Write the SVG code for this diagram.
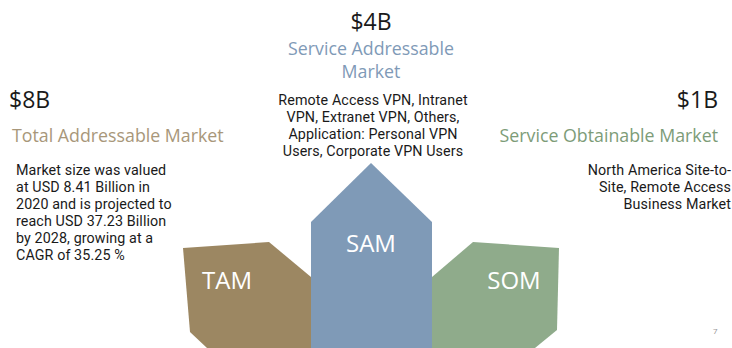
<svg xmlns="http://www.w3.org/2000/svg" width="732" height="348" viewBox="0 0 732 348">
<style>
.big{font-family:"Open Sans","Liberation Sans",sans-serif;font-size:23px;fill:#1a1a1a}
.ttl{font-family:"Open Sans","Liberation Sans",sans-serif;font-size:17.8px}
.body{font-family:Roboto,"Liberation Sans",sans-serif;font-size:14.3px;letter-spacing:0.1px;fill:#1a1a1a}
.lbl{font-family:"Open Sans","Liberation Sans",sans-serif;font-size:24px;fill:#ffffff}
</style>
<rect width="732" height="348" fill="#ffffff"/>
<g id="tam">
<polygon points="183,248 269,242 311,277 311,348 207,348 190,332" fill="#9c8762"/>
<text class="lbl" x="227" y="289" text-anchor="middle">TAM</text>
<text class="big" x="9" y="108">$8B</text>
<text class="ttl" x="12" y="142" fill="#a8977a">Total Addressable Market</text>
<text class="body" x="16" y="175">Market size was valued</text>
<text class="body" x="16" y="192">at USD 8.41 Billion in</text>
<text class="body" x="16" y="209">2020 and is projected to</text>
<text class="body" x="16" y="226">reach USD 37.23 Billion</text>
<text class="body" x="16" y="243">by 2028, growing at a</text>
<text class="body" x="16" y="260">CAGR of 35.25 %</text>
</g>
<g id="sam">
<polygon points="371,163 432,222 432,348 311,348 311,222" fill="#7f9ab7"/>
<text class="lbl" x="371" y="252" text-anchor="middle">SAM</text>
<text class="big" x="371" y="30" text-anchor="middle">$4B</text>
<text class="ttl" x="371" y="55" text-anchor="middle" fill="#7f9ab7">Service Addressable</text>
<text class="ttl" x="371" y="78" text-anchor="middle" fill="#7f9ab7">Market</text>
<text class="body" x="373" y="105" text-anchor="middle">Remote Access VPN, Intranet</text>
<text class="body" x="373" y="122" text-anchor="middle">VPN, Extranet VPN, Others,</text>
<text class="body" x="373" y="139" text-anchor="middle">Application: Personal VPN</text>
<text class="body" x="373" y="156" text-anchor="middle">Users, Corporate VPN Users</text>
</g>
<g id="som">
<polygon points="432,277 473,242 559,248 557,330 535,348 432,348" fill="#8fab8b"/>
<text class="lbl" x="514" y="289" text-anchor="middle">SOM</text>
<text class="big" x="718" y="108" text-anchor="end">$1B</text>
<text class="ttl" x="718" y="142" text-anchor="end" fill="#7d9c78">Service Obtainable Market</text>
<text class="body" x="731" y="175" text-anchor="end">North America Site-to-</text>
<text class="body" x="731" y="192" text-anchor="end">Site, Remote Access</text>
<text class="body" x="731" y="209" text-anchor="end">Business Market</text>
</g>
<text x="713" y="334" font-family="Roboto,'Liberation Sans',sans-serif" font-size="8" fill="#999999">7</text>
</svg>
